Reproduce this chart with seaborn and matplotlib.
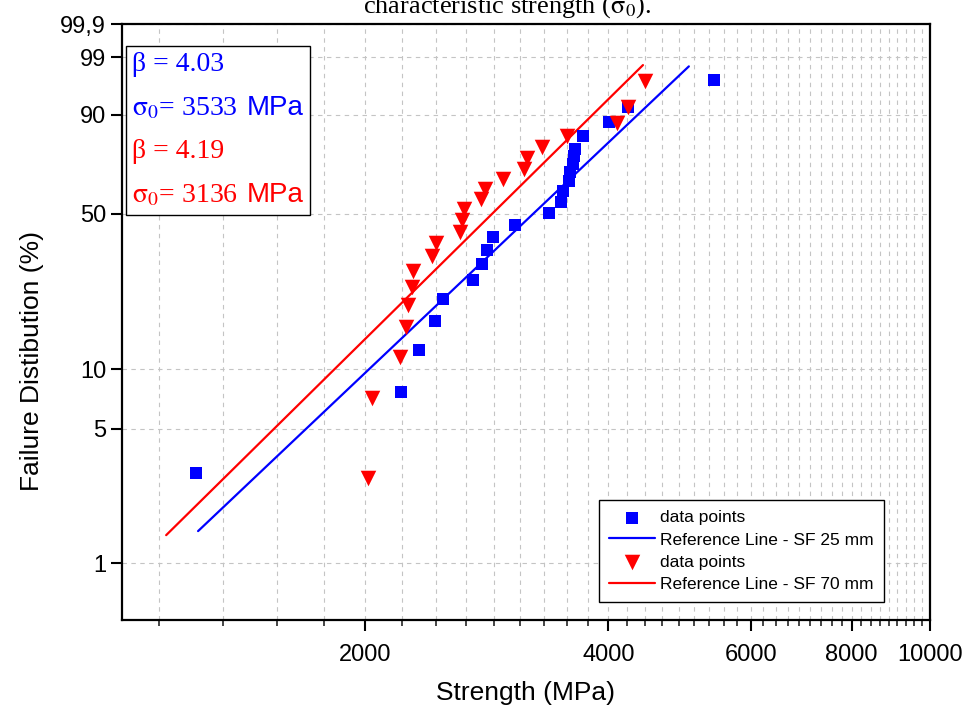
import matplotlib
matplotlib.use('Agg')
import matplotlib.pyplot as plt
import seaborn as sns
import numpy as np
import pandas as pd
from matplotlib.ticker import FixedLocator, NullFormatter
from matplotlib.offsetbox import TextArea, HPacker, VPacker, AnchoredOffsetbox

# data
sf25_strength = [1235, 2214, 2332, 2440, 2497, 2719, 2790, 2830, 2878, 3065, 3376,
                 3493, 3514, 3574, 3584, 3615, 3625, 3635, 3719, 4006, 4230, 5404]
sf25_failure = [2.95, 7.68, 12.4, 17.2, 21.9, 26.7, 31.4, 36.0, 40.7, 45.4, 50.3,
                55.0, 59.9, 64.3, 68.3, 71.8, 75.2, 78.1, 83.1, 87.8, 92.0, 97.0]
sf70_strength = [2016, 2039, 2208, 2246, 2259, 2285, 2292, 2419, 2446, 2620, 2635,
                 2650, 2782, 2814, 2962, 3144, 3171, 3310, 3554, 4099, 4230, 4439]
sf70_failure = [2.78, 7.16, 11.5, 16.1, 20.5, 24.8, 29.3, 34.0, 38.5, 42.6, 47.4,
                52.0, 56.3, 60.7, 65.2, 69.6, 74.4, 78.9, 83.1, 87.5, 92.0, 96.9]

# reference (fit) lines, end points
ref25_strength = [1242, 5031]
ref25_failure = [1.47, 98.4]
ref70_strength = [1134, 4414]
ref70_failure = [1.40, 98.5]

x_ticks = [2000, 4000, 6000, 8000, 10000]
y_ticks = [1, 5, 10, 50, 90, 99, 99.9]
y_tick_labels = ['1', '5', '10', '50', '90', '99', '99,9']

sf25 = pd.DataFrame({'Strength': sf25_strength, 'Failure': sf25_failure})
sf70 = pd.DataFrame({'Strength': sf70_strength, 'Failure': sf70_failure})
ref25 = pd.DataFrame({'Strength': ref25_strength, 'Failure': ref25_failure})
ref70 = pd.DataFrame({'Strength': ref70_strength, 'Failure': ref70_failure})

sns.set_style('ticks')
plt.rcParams['font.family'] = ['Liberation Sans', 'DejaVu Sans']
plt.rcParams['mathtext.fontset'] = 'stix'
plt.rcParams['text.color'] = 'black'
plt.rcParams['axes.labelcolor'] = 'black'

BLUE = '#0000ff'
RED = '#ff0000'


def weibull(p):
    p = np.clip(np.asarray(p, dtype=float), 1e-6, 100 - 1e-6)
    return np.log(-np.log(1 - p / 100))


def weibull_inv(w):
    return 100 * (1 - np.exp(-np.exp(w)))


fig = plt.figure(figsize=(9.64, 7.11), dpi=100)
ax = fig.add_axes([0.1266, 0.128, 0.838, 0.8382])
ax.set_xscale('log')
ax.set_yscale('function', functions=(weibull, weibull_inv))

sns.scatterplot(data=sf25, x='Strength', y='Failure', marker='s', s=72, color=BLUE,
                linewidth=0, label='data points', ax=ax, zorder=3)
sns.lineplot(data=ref25, x='Strength', y='Failure', color=BLUE, linewidth=1.6,
             label='Reference Line - SF 25 mm', ax=ax, zorder=2)
sns.scatterplot(data=sf70, x='Strength', y='Failure', marker='v', s=125, color=RED,
                linewidth=0, label='data points', ax=ax, zorder=4)
sns.lineplot(data=ref70, x='Strength', y='Failure', color=RED, linewidth=1.6,
             label='Reference Line - SF 70 mm', ax=ax, zorder=2)

ax.set_xlim(1000, 10000)
ax.set_ylim(0.503, 99.9)

# x axis: Origin style log ticks, 8 minor ticks between majors
ax.xaxis.set_major_locator(FixedLocator(x_ticks))
ax.set_xticklabels([str(v) for v in x_ticks])
minor = [k * 2000 / 9 for k in range(5, 45) if k % 9 != 0]
ax.xaxis.set_minor_locator(FixedLocator(minor))
ax.xaxis.set_minor_formatter(NullFormatter())

ax.yaxis.set_major_locator(FixedLocator(y_ticks))
ax.set_yticklabels(y_tick_labels)
ax.yaxis.set_minor_locator(FixedLocator([]))

ax.tick_params(axis='both', which='major', direction='out', length=8, width=1.5,
               labelsize=17, color='black', labelcolor='black')
ax.tick_params(axis='x', which='major', pad=9)
ax.tick_params(axis='x', which='minor', direction='out', length=4, width=1.2)

ax.grid(True, axis='x', which='both', color='#c4c4c4', linestyle=(0, (4, 4)), linewidth=0.8)
ax.grid(True, axis='y', which='major', color='#c4c4c4', linestyle=(0, (4, 4)), linewidth=0.8)
ax.set_axisbelow(True)

for side in ['left', 'bottom', 'top', 'right']:
    ax.spines[side].set_visible(True)
    ax.spines[side].set_color('black')
    ax.spines[side].set_linewidth(1.6)

ax.set_xlabel('Strength (MPa)', fontsize=19, color='black')
ax.set_ylabel('Failure Distibution (%)', fontsize=19, color='black')
ax.xaxis.set_label_coords(0.5, -0.102)
ax.yaxis.set_label_coords(-0.096, 0.435)

leg = ax.legend(loc='lower right', bbox_to_anchor=(0.943, 0.03), borderaxespad=0,
                fontsize=12.5, frameon=True, fancybox=False, framealpha=1,
                edgecolor='black', labelspacing=0.4, handlelength=2.6,
                handletextpad=0.3, borderpad=0.6)
leg.get_frame().set_linewidth(1.0)
for t in leg.get_texts():
    t.set_color('black')

# parameter box with mixed serif / sans text
serif = dict(family='Liberation Serif', size=20)
sans = dict(family='Liberation Sans', size=20)


def row(parts):
    return HPacker(children=[TextArea(t, textprops=p) for t, p in parts],
                   align='baseline', pad=0, sep=6)


rows = [
    row([('β = 4.03', dict(serif, color=BLUE))]),
    row([(r'$\mathrm{\sigma_0}$= 3533', dict(serif, color=BLUE)), ('MPa', dict(sans, color=BLUE))]),
    row([('β = 4.19', dict(serif, color=RED))]),
    row([(r'$\mathrm{\sigma_0}$= 3136', dict(serif, color=RED)), ('MPa', dict(sans, color=RED))]),
]
box = VPacker(children=rows, align='left', pad=0, sep=13)
anch = AnchoredOffsetbox(loc='upper left', child=box, pad=0.45, borderpad=0.3,
                         frameon=True, bbox_to_anchor=(0.0, 0.97),
                         bbox_transform=ax.transAxes)
anch.patch.set_edgecolor('black')
anch.patch.set_linewidth(1.0)
anch.patch.set_boxstyle('square', pad=0)
ax.add_artist(anch)

# cropped caption at the very top of the image
fig.text(0.526, 1 - 13 / 711, r'characteristic strength ($\mathrm{\sigma_0}$).',
         ha='center', va='baseline', fontsize=19, family='Liberation Serif', color='black')

fig.savefig('out.png', dpi=100)
